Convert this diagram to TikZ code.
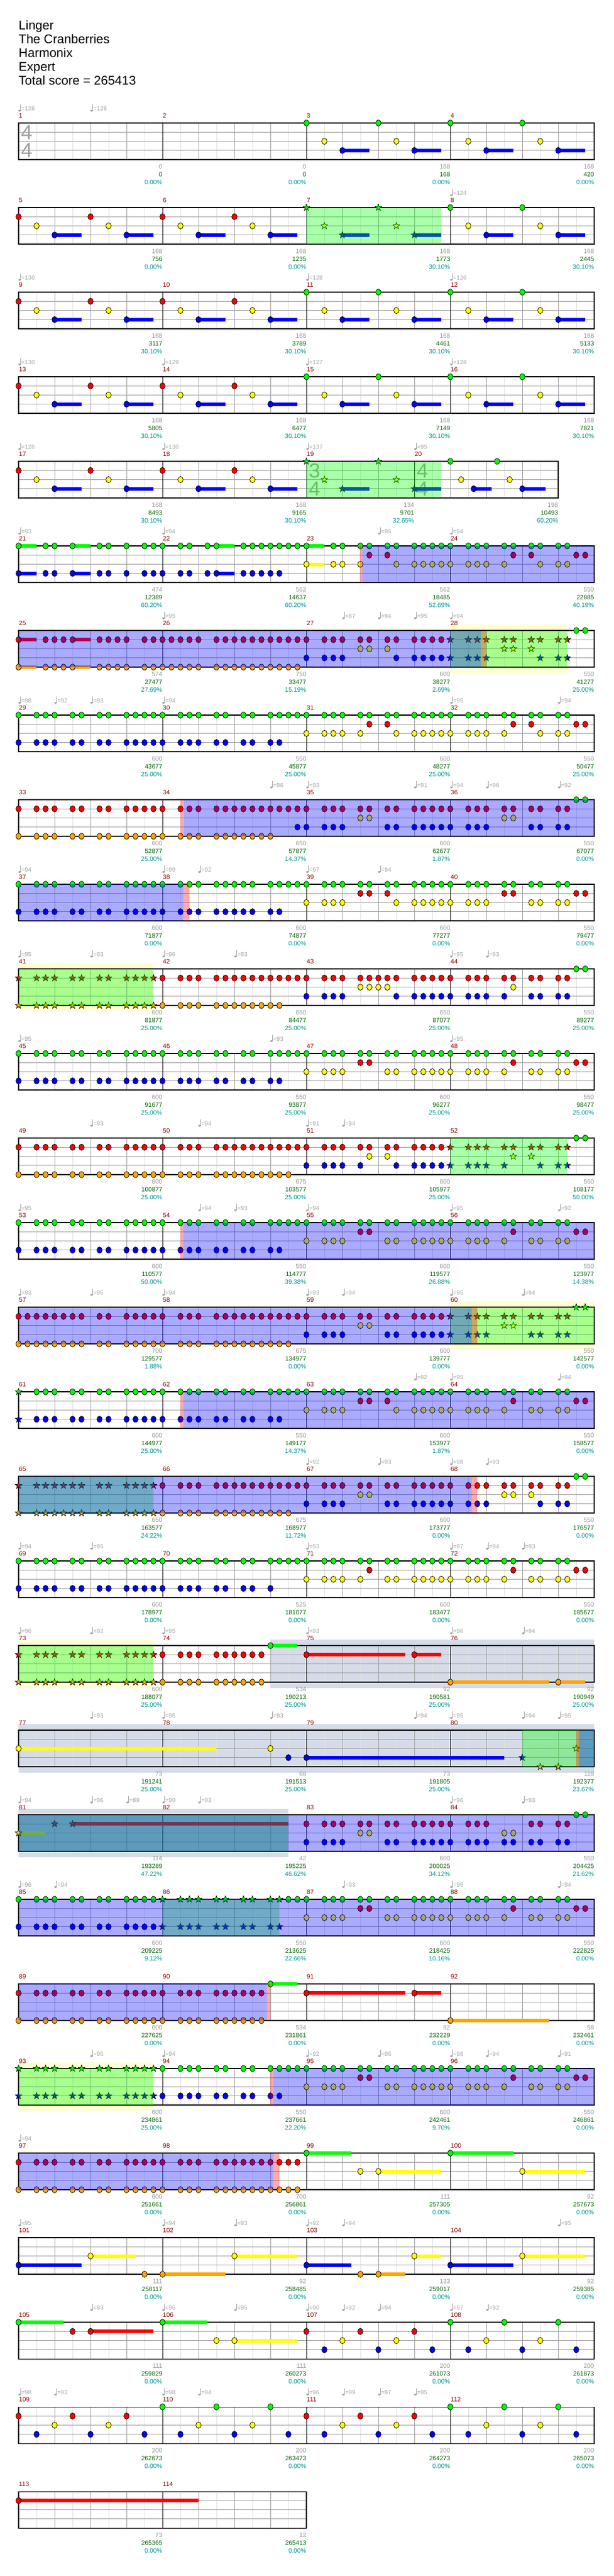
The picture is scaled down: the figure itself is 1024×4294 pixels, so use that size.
\documentclass[tikz,border=0pt]{standalone}
\usepackage{fontspec}
\setmainfont{Liberation Sans}
\definecolor{lane0}{RGB}{0,255,0}
\definecolor{lane1}{RGB}{255,0,0}
\definecolor{lane2}{RGB}{255,255,0}
\definecolor{lane3}{RGB}{0,0,255}
\definecolor{lane4}{RGB}{255,165,0}
\definecolor{mnumred}{RGB}{139,0,0}
\definecolor{ptsgray}{RGB}{150,150,150}
\definecolor{bpmgray}{RGB}{165,165,165}
\definecolor{totgreen}{RGB}{0,100,0}
\definecolor{pctteal}{RGB}{0,150,150}
\definecolor{spyellow}{RGB}{255,255,210}
\definecolor{bregray}{RGB}{213,220,232}
\definecolor{gridlight}{RGB}{224,224,224}
\definecolor{gridmid}{RGB}{160,160,160}

\newcommand\riffA{0,2,3,4,6,7,9,10,12,13,14,15}
\newcommand\riffB{0,2,3,4,6,7,9,10,12,13}
\newcommand\runR{16,18,19,20,22,23,24,25,26,27,28,29,30,31}
\newcommand\runO{16,18,19,20,22,23,24,25,26,27,28,29,30}

% top of a staff row
\newcommand\rowy[1]{(205+141*(#1))}

% row, lane, offset, positions
\newcommand\fretnotes[4]{\edef\poslist{#4}%
  \foreach \p in \poslist
    \filldraw[notehead, fill=lane#2] ({31+15*(#3+\p)},{\rowy{#1}+15.25*#2})
      ellipse [x radius=4.4, y radius=5.2];}
\newcommand\starnotes[4]{\edef\poslist{#4}%
  \foreach \p in \poslist
    \filldraw[notehead, fill=lane#2] ({31+15*(#3+\p)},{\rowy{#1}+15.25*#2})
      +(270:5.8) -- +(306:2.4) -- +(342:5.8) -- +(18:2.4) -- +(54:5.8)
      -- +(90:2.4) -- +(126:5.8) -- +(162:2.4) -- +(198:5.8) -- +(234:2.4) -- cycle;}
% row, lane, from, to
\newcommand\sustain[4]{\fill[lane#2] ({31+15*(#3)},{\rowy{#1}+15.25*#2-3})
  rectangle ({31+15*(#4)},{\rowy{#1}+15.25*#2+3});}

% row, length, bar lines
\newcommand\staffgrid[3]{%
  \foreach \p in {2,4,...,#2}
    \draw[eighthline] ({31+15*\p},{\rowy{#1}}) -- ++(0,61);
  \foreach \p in {4,8,...,#2}
    \draw[beatline] ({31+15*\p},{\rowy{#1}}) -- ++(0,61);
  \foreach \l in {1,2,3}
    \draw[laneline] (31,{\rowy{#1}+15.25*\l}) -- ({31+15*#2},{\rowy{#1}+15.25*\l});
  \foreach \p in {#3}
    \draw[barline] ({31+15*\p},{\rowy{#1}}) -- ++(0,61);
  \draw[staffline] (31,{\rowy{#1}}) rectangle ({31+15*#2},{\rowy{#1}+61});}
\newcommand\measnum[3]{\node[mnum] (m#3) at ({31.5+15*#2},{\rowy{#1}-12}) {#3};}
\newcommand\plainrow[2]{\staffgrid{#1}{64}{0,16,32,48,64}%
  \foreach \k in {0,...,3}{\pgfmathtruncatemacro\mm{#2+\k}\measnum{#1}{16*\k}{\mm}}}
\newcommand\timesig[4]{%
  \node[tsig] (ts-#1-#2a) at ({44.5+15*#2},{\rowy{#1}+16}) {#3};
  \node[tsig] (ts-#1-#2b) at ({44.5+15*#2},{\rowy{#1}+45.5}) {#4};}

% row, position, tempo
\newcommand\bpm[3]{%
  \fill[bpmgray] ({32.6+15*#2},{\rowy{#1}-20.5}) ellipse [x radius=2, y radius=1.6];
  \draw[bpmgray, line width=0.6pt] ({34.4+15*#2},{\rowy{#1}-20.5}) -- ++(0,-10.5);
  \node[bpmtext] (bpm-#1-#2) at ({35.4+15*#2},{\rowy{#1}-24}) {=#3};}
\newcommand\bpmrow[2]{\foreach \tp/\tv in {#2}{\bpm{#1}{\tp}{\tv}}}

% row, end position, points, total, percent
\newcommand\mscore[5]{%
  \node[ptsnum] (pts-#1-#2) at ({31+15*#2},{\rowy{#1}+72.5}) {#3};
  \node[totnum] (tot-#1-#2) at ({31+15*#2},{\rowy{#1}+86}) {#4};
  \node[pctnum] (pct-#1-#2) at ({31+15*#2},{\rowy{#1}+99}) {#5\%};}
\newcommand\scorerow[2]{\foreach \ptsv/\totv/\pctv [count=\k] in {#2}{%
  \pgfmathtruncatemacro\endp{16*\k}\mscore{#1}{\endp}{\ptsv}{\totv}{\pctv}}}

% row, from, to
\newcommand\odrive[3]{\fill[odfill] ({31+15*(#2)},{\rowy{#1}}) rectangle ({31+15*(#3)},{\rowy{#1}+61});}
\newcommand\solo[3]{\fill[solofill] ({31+15*(#2)},{\rowy{#1}}) rectangle ({31+15*(#3)},{\rowy{#1}+61});}
\newcommand\odmark[3]{\fill[markfill] ({31+15*(#2)},{\rowy{#1}}) rectangle ({31+15*(#3)},{\rowy{#1}+61});}
\newcommand\spbox[3]{\fill[spyellow] ({31+15*(#2)},{\rowy{#1}-10}) rectangle ({31+15*(#3)},{\rowy{#1}+71});}
\newcommand\brebox[3]{\fill[bregray] ({31+15*(#2)},{\rowy{#1}-10}) rectangle ({31+15*(#3)},{\rowy{#1}+71});}

% intro bars: row, offset, lane of first note
\newcommand\introbar[3]{\sustain{#1}{3}{#2+4}{#2+7}\sustain{#1}{3}{#2+12}{#2+15}%
  \fretnotes{#1}{#3}{#2}{0,8}\fretnotes{#1}{2}{#2}{2,10}\fretnotes{#1}{3}{#2}{4,12}}
\newcommand\introstar[3]{\sustain{#1}{3}{#2+4}{#2+7}\sustain{#1}{3}{#2+12}{#2+15}%
  \starnotes{#1}{#3}{#2}{0,8}\starnotes{#1}{2}{#2}{2,10}\starnotes{#1}{3}{#2}{4,12}}
% second half of the verse riff
\newcommand\verseback[1]{\fretnotes{#1}{0}{32}{\riffA}\fretnotes{#1}{0}{48}{\riffB}%
  \fretnotes{#1}{1}{0}{38,39,55,62,63}%
  \fretnotes{#1}{2}{0}{32,34,35,36,41,42,44,45,46,47,48,50,51,52,54,57,58,60,61}}

\begin{document}
\begin{tikzpicture}[x=1pt, y=-1pt,
  notehead/.style={draw=black, line width=0.7pt},
  eighthline/.style={draw=gridlight, line width=0.8pt},
  beatline/.style={draw=gridmid, line width=0.8pt},
  laneline/.style={draw=gridmid, line width=0.9pt},
  barline/.style={draw=black, line width=0.8pt},
  staffline/.style={draw=black, line width=1.1pt},
  odfill/.style={fill=lane3, fill opacity=0.333},
  solofill/.style={fill=lane0, fill opacity=0.333},
  markfill/.style={fill=lane1, fill opacity=0.333},
  mnum/.style={anchor=west, inner sep=0pt, text=mnumred, font=\fontsize{10.5}{12}\selectfont},
  bpmtext/.style={anchor=west, inner sep=0pt, text=bpmgray, font=\fontsize{10}{12}\selectfont},
  ptsnum/.style={anchor=east, inner sep=0pt, text=ptsgray, font=\fontsize{10.5}{12}\selectfont},
  totnum/.style={anchor=east, inner sep=0pt, text=totgreen, font=\fontsize{10.5}{12}\selectfont},
  pctnum/.style={anchor=east, inner sep=0pt, text=pctteal, font=\fontsize{10.5}{12}\selectfont},
  tsig/.style={inner sep=0pt, text=gridmid, font=\fontsize{34}{34}\selectfont},
  titletext/.style={anchor=base west, inner sep=0pt, font=\fontsize{21}{25}\selectfont}]
\useasboundingbox (0,0) rectangle (1024,4294);
\fill[white] (0,0) rectangle (1024,4294);

\node[titletext] (title) at (31,49.3) {Linger};
\node[titletext] (artist) at (31,72.4) {The Cranberries};
\node[titletext] (author) at (31,95.5) {Harmonix};
\node[titletext] (level) at (31,118.6) {Expert};
\node[titletext] (total) at (31,141.7) {Total score = 265413};

% measures 1-4
\plainrow{0}{1}
\timesig{0}{0}{4}{4}
\bpmrow{0}{0/126,8/128}
\scorerow{0}{0/0/0.00,0/0/0.00,168/168/0.00,168/420/0.00}
\introbar{0}{32}{0}\introbar{0}{48}{0}

% measures 5-8
\plainrow{1}{5}
\bpmrow{1}{48/124}
\scorerow{1}{168/756/0.00,168/1235/0.00,168/1773/30.10,168/2445/30.10}
\introbar{1}{0}{1}\introbar{1}{16}{1}\introstar{1}{32}{0}\introbar{1}{48}{0}
\solo{1}{32}{47}

% measures 9-12
\plainrow{2}{9}
\bpmrow{2}{0/130,32/128,48/126}
\scorerow{2}{168/3117/30.10,168/3789/30.10,168/4461/30.10,168/5133/30.10}
\introbar{2}{0}{1}\introbar{2}{16}{1}\introbar{2}{32}{0}\introbar{2}{48}{0}

% measures 13-16
\plainrow{3}{13}
\bpmrow{3}{0/130,16/129,32/127,48/128}
\scorerow{3}{168/5805/30.10,168/6477/30.10,168/7149/30.10,168/7821/30.10}
\introbar{3}{0}{1}\introbar{3}{16}{1}\introbar{3}{32}{0}\introbar{3}{48}{0}

% measures 17-20
\staffgrid{4}{60}{0,16,32,44,60}
\measnum{4}{0}{17}\measnum{4}{16}{18}\measnum{4}{32}{19}\measnum{4}{44}{20}
\timesig{4}{32}{3}{4}\timesig{4}{44}{4}{4}
\bpmrow{4}{0/126,16/130,32/137,44/95}
\mscore{4}{16}{168}{8493}{30.10}\mscore{4}{32}{168}{9165}{30.10}
\mscore{4}{44}{134}{9701}{32.65}\mscore{4}{60}{198}{10493}{60.20}
\introbar{4}{0}{1}\introbar{4}{16}{1}\introstar{4}{32}{0}
\sustain{4}{3}{50.6}{52.6}\sustain{4}{3}{56}{58.6}
\fretnotes{4}{0}{0}{48,53.2}\fretnotes{4}{2}{0}{49.2,54.6}\fretnotes{4}{3}{0}{50.6,56}
\solo{4}{32}{47}

% measures 21-24
\plainrow{5}{21}
\bpmrow{5}{0/93,16/94,40/95,48/94}
\scorerow{5}{474/12389/60.20,562/14637/60.20,562/18485/52.69,550/22885/40.19}
\sustain{5}{0}{0}{2}\sustain{5}{0}{6}{8}\sustain{5}{0}{22}{24}\sustain{5}{0}{32}{34}
\sustain{5}{3}{0}{2}\sustain{5}{3}{6}{8}\sustain{5}{3}{22}{24}\sustain{5}{2}{32}{34}
\fretnotes{5}{0}{0}{0,3,4,6,9,10,12,14,15,16,18,19,21,22,25,26,27,28,29,30,31,32,35,36,38,39,41,42,44,45,46,47,48,50,51,52,54,55,57,58,60,61}
\fretnotes{5}{3}{0}{0,3,4,6,9,10,12,14,15,16,18,19,21,22,25,26,27,28,29}
\fretnotes{5}{1}{0}{39,41,55,57,62,63}
\fretnotes{5}{2}{0}{32,35,36,38,42,44,45,46,47,48,50,51,52,54,58,60,61}
\odmark{5}{37.9}{38.2}\odrive{5}{38.2}{64}

% measures 25-28
\spbox{6}{48}{61}
\plainrow{6}{25}
\bpmrow{6}{16/95,36/87,40/94,44/95,48/94}
\scorerow{6}{574/27477/27.69,750/33477/15.19,600/38277/2.69,550/41277/25.00}
\sustain{6}{1}{0}{2}\sustain{6}{1}{6}{8}\sustain{6}{4}{0}{2}\sustain{6}{4}{6}{8}
\fretnotes{6}{1}{0}{0,3,4,5,6,9,10,11,12,14,15,16,17,18,19,20,22,23,24,25,26,27,28,29,30,31,32,34,35,36,38,39,41,42,44,45,46,47}
\fretnotes{6}{4}{0}{0,3,4,5,6,9,10,11,12,14,15,16,17,18,19,20,22,23,24,25,26,27,28,29,30,31}
\fretnotes{6}{2}{0}{38,39,41}
\fretnotes{6}{3}{0}{32,34,35,36,42,44,45,46,47}
\starnotes{6}{1}{48}{\riffB}\starnotes{6}{2}{0}{54,55,57}\starnotes{6}{3}{0}{48,50,51,52,58,60,61}
\fretnotes{6}{0}{0}{62,63}
\solo{6}{48}{61}\odrive{6}{0}{51.4}\odmark{6}{51.4}{52}

% measures 29-32
\plainrow{7}{29}
\bpmrow{7}{0/98,4/92,8/93,16/94,48/95,60/94}
\scorerow{7}{600/43677/25.00,550/45877/25.00,600/48277/25.00,550/50477/25.00}
\fretnotes{7}{0}{0}{\riffA}\fretnotes{7}{3}{0}{\riffA}
\fretnotes{7}{0}{16}{\riffA}\fretnotes{7}{3}{16}{\riffB}
\fretnotes{7}{0}{32}{\riffA}\fretnotes{7}{0}{48}{\riffB}
\fretnotes{7}{1}{0}{39,41,55,57,62,63}
\fretnotes{7}{2}{0}{32,34,35,36,38,42,44,45,46,47,48,50,51,52,54,58,60,61}

% measures 33-36
\plainrow{8}{33}
\bpmrow{8}{28/96,32/93,44/91,48/94,52/96,60/92}
\scorerow{8}{600/52877/25.00,650/57877/14.37,600/62677/1.87,550/67077/0.00}
\fretnotes{8}{1}{0}{\riffA}\fretnotes{8}{1}{0}{\runR}\fretnotes{8}{1}{32}{\riffA}\fretnotes{8}{1}{48}{\riffB}
\fretnotes{8}{4}{0}{\riffA}\fretnotes{8}{4}{0}{16,18,19,20,22,23,24,25,26,27,28}
\fretnotes{8}{2}{0}{38,39,54,55}
\fretnotes{8}{3}{0}{31,32,34,35,36,41,42,44,45,46,47,48,50,51,52,57,58,60,61}
\fretnotes{8}{0}{0}{62,63}
\odmark{8}{18}{18.4}\odrive{8}{18.4}{64}

% measures 37-40
\plainrow{9}{37}
\bpmrow{9}{0/94,16/99,20/92,32/97,40/94}
\scorerow{9}{600/71877/0.00,600/74877/0.00,600/77277/0.00,550/79477/0.00}
\fretnotes{9}{0}{0}{\riffA}\fretnotes{9}{0}{0}{16,18,19,20,22,23,24,25,26,28,29,30,31}
\fretnotes{9}{0}{32}{\riffA}\fretnotes{9}{0}{48}{\riffB}
\fretnotes{9}{3}{0}{\riffA}\fretnotes{9}{3}{0}{16,18,19,20,22,23,24,25,26,28,29}
\fretnotes{9}{1}{0}{38,39,41,54,55,62,63}
\fretnotes{9}{2}{0}{32,34,35,36,42,44,45,46,47,48,50,51,52,57,58,60,61}
\odrive{9}{0}{18.3}\odmark{9}{18.3}{19}

% measures 41-44
\spbox{10}{0}{15}
\plainrow{10}{41}
\bpmrow{10}{0/95,8/93,16/96,24/93,48/95,52/93}
\scorerow{10}{600/81877/25.00,650/84477/25.00,650/87077/25.00,550/89277/25.00}
\starnotes{10}{1}{0}{\riffA}\starnotes{10}{4}{0}{\riffA}
\fretnotes{10}{1}{0}{\runR}\fretnotes{10}{1}{0}{32,34,35,36,38,39,40,41,42,44,45,46,47}\fretnotes{10}{1}{48}{\riffB}
\fretnotes{10}{4}{0}{16,18,19,20,22,23,24,25,26,27,28,29}
\fretnotes{10}{2}{0}{38,39,40,41,55}
\fretnotes{10}{3}{0}{32,34,35,36,42,44,45,46,47,48,50,51,52,54,57,58,60,61}
\fretnotes{10}{0}{0}{62,63}
\solo{10}{0}{15}

% measures 45-48
\plainrow{11}{45}
\bpmrow{11}{0/95,28/93,48/95}
\scorerow{11}{600/91677/25.00,550/93877/25.00,600/96277/25.00,550/98477/25.00}
\fretnotes{11}{0}{0}{\riffA}\fretnotes{11}{0}{16}{\riffA}
\fretnotes{11}{3}{0}{\riffA}\fretnotes{11}{3}{16}{\riffB}
\verseback{11}

% measures 49-52
\plainrow{12}{49}
\bpmrow{12}{8/93,20/94,32/91,36/94}
\scorerow{12}{600/100877/25.00,675/103577/25.00,600/105977/25.00,550/108177/50.00}
\fretnotes{12}{1}{0}{\riffA}\fretnotes{12}{1}{0}{\runR}\fretnotes{12}{1}{32}{\riffA}
\fretnotes{12}{4}{0}{\riffA}\fretnotes{12}{4}{0}{\runO}
\fretnotes{12}{2}{0}{39,41}
\fretnotes{12}{3}{0}{32,34,35,36,38,42,44,45,46,47}
\starnotes{12}{1}{48}{\riffB}\starnotes{12}{2}{0}{55,57}\starnotes{12}{3}{0}{48,50,51,52,54,58,60,61}
\fretnotes{12}{0}{0}{62,63}
\solo{12}{48}{61}

% measures 53-56
\plainrow{13}{53}
\bpmrow{13}{0/95,20/94,24/93,32/94,48/95,60/92}
\scorerow{13}{600/110577/50.00,550/114777/39.38,600/119577/26.88,550/123977/14.38}
\fretnotes{13}{0}{0}{\riffA}\fretnotes{13}{0}{16}{\riffA}
\fretnotes{13}{3}{0}{\riffA}\fretnotes{13}{3}{16}{\riffB}
\verseback{13}
\odmark{13}{18}{18.3}\odrive{13}{18.3}{64}

% measures 57-60
\spbox{14}{48}{64}
\plainrow{14}{57}
\bpmrow{14}{0/93,8/95,16/94,32/93,36/94,48/95,56/94}
\scorerow{14}{700/129577/1.88,675/134977/0.00,600/139777/0.00,550/142577/0.00}
\fretnotes{14}{1}{0}{0,1,2,3,4,5,6,7,9,10,12,13,14,15}\fretnotes{14}{1}{0}{\runR}\fretnotes{14}{1}{32}{\riffA}
\fretnotes{14}{4}{0}{0,1,2,3,4,5,6,7,9,10,12,13,14,15}\fretnotes{14}{4}{0}{\runO}
\fretnotes{14}{2}{0}{38,39}
\fretnotes{14}{3}{0}{32,34,35,36,41,42,44,45,46,47}
\starnotes{14}{1}{48}{\riffB}\starnotes{14}{2}{0}{54,55}\starnotes{14}{3}{0}{48,50,51,52,57,58,60,61}
\starnotes{14}{0}{0}{62,63}
\solo{14}{48}{64}\odrive{14}{0}{50.4}\odmark{14}{50.4}{51}

% measures 61-64
\plainrow{15}{61}
\bpmrow{15}{44/92,48/95,60/94}
\scorerow{15}{600/144977/25.00,550/149177/14.37,600/153977/1.87,550/158577/0.00}
\starnotes{15}{0}{0}{0}\starnotes{15}{3}{0}{0}
\fretnotes{15}{0}{0}{2,3,4,6,7,9,10,12,13,14,15}\fretnotes{15}{0}{16}{\riffA}
\fretnotes{15}{0}{32}{\riffA}\fretnotes{15}{0}{48}{\riffB}
\fretnotes{15}{3}{0}{2,3,4,6,7,9,10,12,13,14,15}\fretnotes{15}{3}{16}{\riffB}
\fretnotes{15}{1}{0}{38,39,41,55,62,63}
\fretnotes{15}{2}{0}{32,34,35,36,42,44,45,46,47,48,50,51,52,54,57,58,60,61}
\odmark{15}{18}{18.3}\odrive{15}{18.3}{64}

% measures 65-68
\plainrow{16}{65}
\bpmrow{16}{32/92,40/93,48/98,52/93}
\scorerow{16}{650/163577/24.22,675/168977/11.72,600/173777/0.00,550/176577/0.00}
\starnotes{16}{1}{0}{0,2,3,4,5,6,7,9,10,12,13,14,15}\starnotes{16}{4}{0}{0,2,3,4,5,6,7,9,10,12,13,14,15}
\fretnotes{16}{1}{0}{\runR}\fretnotes{16}{1}{32}{\riffA}\fretnotes{16}{1}{48}{\riffB}
\fretnotes{16}{4}{0}{\runO}
\fretnotes{16}{2}{0}{38,39,54,55,57}
\fretnotes{16}{3}{0}{32,34,35,36,41,42,44,45,46,47,48,50,51,52,58,60,61}
\fretnotes{16}{0}{0}{62,63}
\solo{16}{0}{15}\odrive{16}{0}{50.4}\odmark{16}{50.4}{51}

% measures 69-72
\plainrow{17}{69}
\bpmrow{17}{0/94,8/95,32/93,48/97,52/94,56/93}
\scorerow{17}{600/178977/0.00,525/181077/0.00,600/183477/0.00,550/185677/0.00}
\fretnotes{17}{0}{0}{\riffA}\fretnotes{17}{0}{16}{\riffA}\fretnotes{17}{0}{32}{\riffA}\fretnotes{17}{0}{48}{\riffB}
\fretnotes{17}{3}{0}{\riffA}\fretnotes{17}{3}{0}{16,18,19,20,22,23,25,26,28}
\fretnotes{17}{1}{0}{39,55,62,63}
\fretnotes{17}{2}{0}{32,34,35,36,38,41,42,44,45,46,47,48,50,51,52,54,57,58,60,61}

% measures 73-76
\spbox{18}{0}{15}\brebox{18}{28}{64}
\plainrow{18}{73}
\bpmrow{18}{0/96,8/92,16/95,32/93,48/96,56/94}
\scorerow{18}{600/188077/25.00,534/190213/25.00,92/190581/25.00,92/190949/25.00}
\starnotes{18}{1}{0}{\riffA}\starnotes{18}{4}{0}{\riffA}
\fretnotes{18}{1}{0}{16,18,19,20,22,23,24,25,26,27}\fretnotes{18}{4}{0}{16,18,19,20,22,23,24,25,26,27}
\sustain{18}{0}{28}{31}\fretnotes{18}{0}{0}{28}
\sustain{18}{1}{32}{43}\sustain{18}{1}{44}{47}\fretnotes{18}{1}{0}{32,44}
\sustain{18}{4}{48}{59}\sustain{18}{4}{60}{63}\fretnotes{18}{4}{0}{48,60}
\solo{18}{0}{15}

% measures 77-80
\brebox{19}{0}{64}
\plainrow{19}{77}
\bpmrow{19}{8/93,16/95,28/93,44/94,48/95,56/94,60/95}
\scorerow{19}{73/191241/25.00,68/191513/25.00,73/191805/25.00,118/192377/23.67}
\sustain{19}{2}{0}{22}\fretnotes{19}{2}{0}{0,28}
\fretnotes{19}{3}{0}{30}
\sustain{19}{3}{32}{54}\fretnotes{19}{3}{0}{32}
\starnotes{19}{3}{0}{56}\starnotes{19}{4}{0}{58,60}\starnotes{19}{2}{0}{62}
\solo{19}{56}{64}\odmark{19}{62}{62.3}\odrive{19}{62.3}{64}

% measures 81-84
\brebox{20}{0}{30}
\plainrow{20}{81}
\bpmrow{20}{0/94,8/96,12/89,16/99,20/93,48/96,56/93}
\scorerow{20}{114/193289/47.22,42/195225/46.62,600/200025/34.12,550/204425/21.62}
\sustain{20}{2}{0}{3}\starnotes{20}{2}{0}{0}
\sustain{20}{1}{6}{30}\starnotes{20}{1}{0}{4,6}
\fretnotes{20}{1}{32}{\riffA}\fretnotes{20}{1}{0}{48,50,51,52,57,58,60,61}
\fretnotes{20}{2}{0}{38,39,54,55}
\fretnotes{20}{3}{0}{32,34,35,36,41,42,44,45,46,47}\fretnotes{20}{3}{48}{\riffB}
\fretnotes{20}{0}{0}{62,63}
\solo{20}{0}{30}\odrive{20}{0}{64}

% measures 85-88
\plainrow{21}{85}
\bpmrow{21}{0/96,4/94,36/93,48/95,60/94}
\scorerow{21}{600/209225/9.12,550/213625/22.66,600/218425/10.16,550/222825/0.00}
\fretnotes{21}{0}{0}{\riffA}\fretnotes{21}{3}{0}{\riffA}
\starnotes{21}{0}{16}{\riffB}\starnotes{21}{3}{16}{\riffB}\fretnotes{21}{0}{0}{30,31}
\verseback{21}
\solo{21}{16}{29}\odrive{21}{0}{64}

% measures 89-92
\plainrow{22}{89}
\scorerow{22}{600/227625/0.00,534/231861/0.00,92/232229/0.00,58/232461/0.00}
\fretnotes{22}{1}{0}{\riffA}\fretnotes{22}{4}{0}{\riffA}
\fretnotes{22}{1}{0}{16,18,19,20,22,23,24,25,26,27}\fretnotes{22}{4}{0}{16,18,19,20,22,23,24,25,26,27}
\sustain{22}{0}{28}{31}\fretnotes{22}{0}{0}{28}
\sustain{22}{1}{32}{43}\sustain{22}{1}{44}{47}\fretnotes{22}{1}{0}{32,44}
\sustain{22}{4}{48}{59}\fretnotes{22}{4}{0}{48}
\odrive{22}{0}{27.6}\odmark{22}{27.6}{28}

% measures 93-96
\spbox{23}{0}{15}
\plainrow{23}{93}
\bpmrow{23}{8/95,16/94,32/92,40/95,48/98,52/94,60/91}
\scorerow{23}{600/234861/25.00,550/237661/22.20,600/242461/9.70,550/246861/0.00}
\starnotes{23}{0}{0}{\riffA}\starnotes{23}{3}{0}{\riffA}
\fretnotes{23}{0}{16}{\riffA}\fretnotes{23}{3}{16}{\riffB}
\verseback{23}
\solo{23}{0}{15}\odmark{23}{28}{28.3}\odrive{23}{28.3}{64}

% measures 97-100
\plainrow{24}{97}
\bpmrow{24}{0/94}
\scorerow{24}{600/251661/0.00,700/256861/0.00,111/257305/0.00,92/257673/0.00}
\fretnotes{24}{1}{0}{\riffA}\fretnotes{24}{1}{0}{\runR}
\fretnotes{24}{4}{0}{\riffA}\fretnotes{24}{4}{0}{\runR}
\sustain{24}{0}{32}{37}\sustain{24}{0}{48}{55}\fretnotes{24}{0}{0}{32,48}
\sustain{24}{2}{40}{47}\sustain{24}{2}{56}{63}\fretnotes{24}{2}{0}{38,40,56}
\odrive{24}{0}{28.3}\odmark{24}{28.3}{29}

% measures 101-104
\plainrow{25}{101}
\bpmrow{25}{0/95,16/94,24/93,32/92,36/94,60/95}
\scorerow{25}{111/258117/0.00,92/258485/0.00,133/259017/0.00,92/259385/0.00}
\sustain{25}{3}{0}{7}\sustain{25}{3}{32}{37}\sustain{25}{3}{48}{55}\fretnotes{25}{3}{0}{0,32,48}
\sustain{25}{2}{8}{13}\sustain{25}{2}{24}{31}\sustain{25}{2}{44}{47}\sustain{25}{2}{56}{63}
\fretnotes{25}{2}{0}{8,24,44,56}
\sustain{25}{4}{16}{23}\sustain{25}{4}{40}{43}\fretnotes{25}{4}{0}{14,16,38,40}

% measures 105-108
\plainrow{26}{105}
\bpmrow{26}{8/93,16/96,24/95,32/90,36/92,40/94,48/97,52/92}
\scorerow{26}{111/259829/0.00,111/260273/0.00,200/261073/0.00,200/261873/0.00}
\sustain{26}{0}{0}{5}\sustain{26}{0}{16}{21}\fretnotes{26}{0}{0}{0,16,48,54,60}
\sustain{26}{1}{8}{15}\fretnotes{26}{1}{0}{6,8,32,38,44}
\sustain{26}{2}{24}{31}\fretnotes{26}{2}{0}{22,24,36,42,52,58}
\fretnotes{26}{3}{0}{34,40,46,50,56,62}

% measures 109-112
\plainrow{27}{109}
\bpmrow{27}{0/98,4/93,16/98,20/94,32/96,36/99,40/97,44/95}
\scorerow{27}{200/262673/0.00,200/263473/0.00,200/264273/0.00,200/265073/0.00}
\fretnotes{27}{1}{0}{0,6,12,32,38,44}
\fretnotes{27}{3}{0}{2,8,14,18,24,30,34,40,46,50,56,62}
\fretnotes{27}{2}{0}{4,10,20,26,36,42,52,58}
\fretnotes{27}{0}{0}{16,22,28,48,54,60}

% measures 113-114
\staffgrid{28}{32}{0,16,32}
\measnum{28}{0}{113}\measnum{28}{16}{114}
\mscore{28}{16}{73}{265365}{0.00}\mscore{28}{32}{12}{265413}{0.00}
\sustain{28}{1}{0}{20}\fretnotes{28}{1}{0}{0}
\end{tikzpicture}
\end{document}
